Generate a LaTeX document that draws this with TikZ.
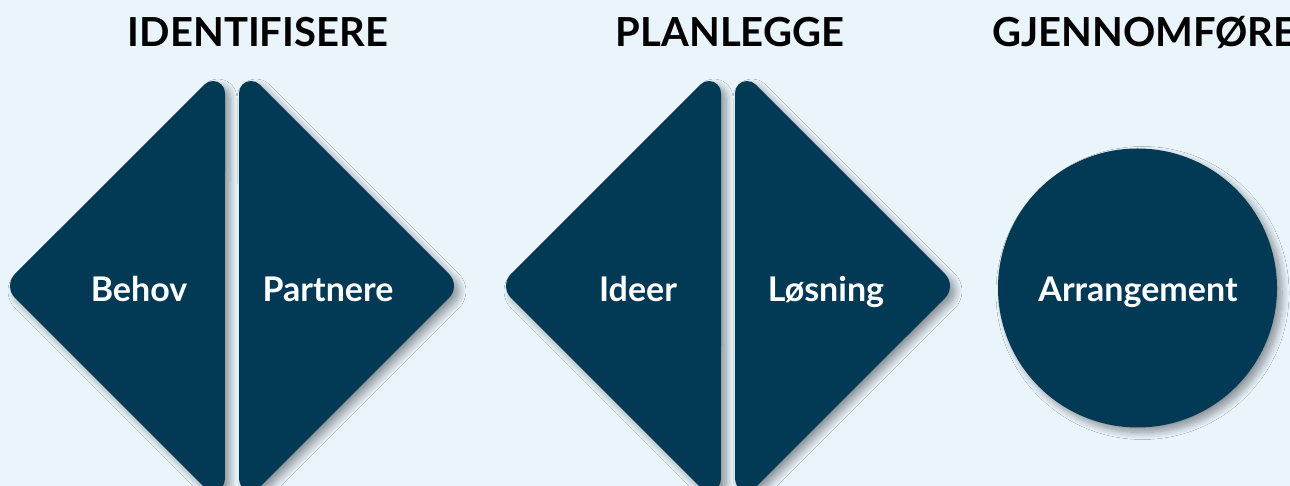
\documentclass[tikz,border=0pt]{standalone}
\usepackage{fontspec}
\setmainfont{Lato}
\usetikzlibrary{shadows.blur}
\definecolor{bg}{HTML}{E9F4FB}
\definecolor{navy}{HTML}{023A56}
\tikzset{
  shd/.style={blur shadow={shadow xshift=5pt, shadow yshift=-5pt, shadow opacity=40, shadow blur radius=7pt, shadow blur steps=12}},
  tri/.style={fill=navy, shd},
  lbl/.style={text=white, font=\bfseries\fontsize{34}{40}\selectfont, inner sep=0pt, anchor=base},
  ttl/.style={text=black, font=\bfseries\fontsize{40}{46}\selectfont, inner sep=0pt, anchor=base},
}
% half-diamond with vertical edge on the right at x=#1
\newcommand\LTri[1]{%
  \fill[tri] ({#1},{\cy+\hh-29}) arc[start angle=0, end angle=135, radius=12]
    -- ({#1-\hh+12.02},{\cy+12.02}) arc[start angle=135, end angle=225, radius=17]
    -- ({#1-20.5},{\cy-\hh+20.5}) arc[start angle=225, end angle=360, radius=12]
    -- cycle;}
% half-diamond with vertical edge on the left at x=#1
\newcommand\RTri[1]{%
  \fill[tri] ({#1},{\cy-\hh+29}) arc[start angle=180, end angle=315, radius=12]
    -- ({#1+\hh-12.02},{\cy-12.02}) arc[start angle=-45, end angle=45, radius=17]
    -- ({#1+20.5},{\cy+\hh-20.5}) arc[start angle=45, end angle=180, radius=12]
    -- cycle;}
\begin{document}
\begin{tikzpicture}[x=1pt,y=1pt]
\def\cy{200}\def\hh{222}
\useasboundingbox (0,0) rectangle (1290,486);
\fill[bg] (0,0) rectangle (1290,486);
\clip (0,0) rectangle (1290,486);
% diamond 1
\LTri{225}
\RTri{239}
% diamond 2
\LTri{721}
\RTri{735}
% circle
\node[circle, fill=navy, minimum size=279pt, inner sep=0pt, shd] (circ) at (1137.5,198) {};
% labels
\node[lbl] (behov) at (139,184) {Behov};
\node[lbl] (partnere) at (328,184) {Partnere};
\node[lbl] (ideer) at (638,184) {Ideer};
\node[lbl] (losning) at (826,184) {Løsning};
\node[lbl] (arr) at (1138,184) {Arrangement};
% titles
\node[ttl] (t1) at (258,439) {IDENTIFISERE};
\node[ttl] (t2) at (730,439) {PLANLEGGE};
\node[ttl, anchor=base west] (t3) at (992,439) {GJENNOMFØRE};
\end{tikzpicture}
\end{document}
